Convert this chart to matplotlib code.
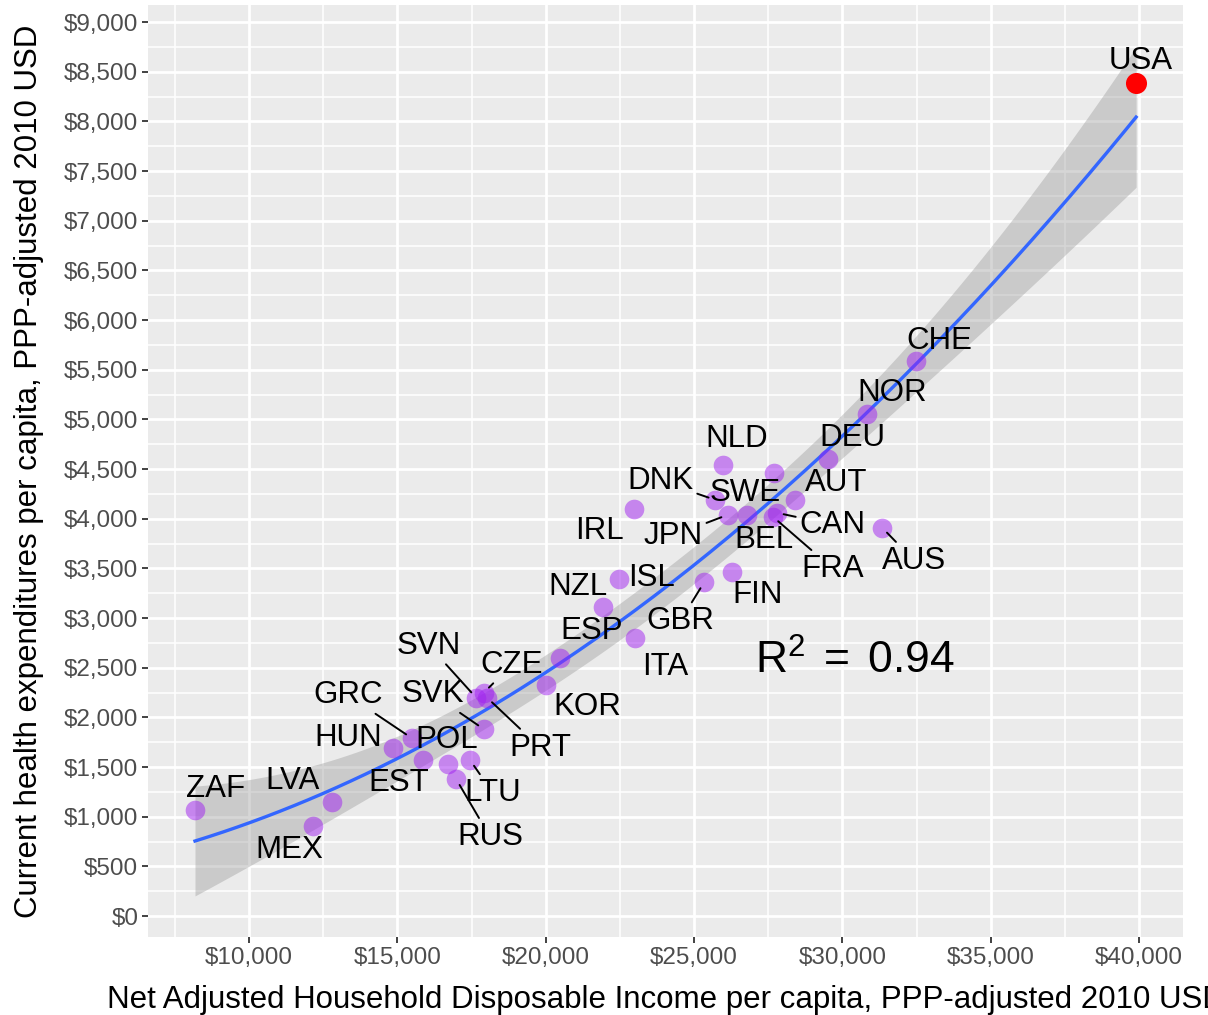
import numpy as np
import matplotlib
matplotlib.use('Agg')
import matplotlib.pyplot as plt
from matplotlib.ticker import FuncFormatter, MultipleLocator

plt.rcParams['font.family'] = ['Liberation Sans', 'DejaVu Sans']
plt.rcParams['mathtext.fontset'] = 'custom'
plt.rcParams['mathtext.rm'] = 'Liberation Sans'
plt.rcParams['mathtext.it'] = 'Liberation Sans:italic'

# ---------------- data ----------------
countries = ['USA', 'CHE', 'NOR', 'DEU', 'AUT', 'NLD', 'SWE', 'DNK', 'IRL', 'JPN',
             'BEL', 'CAN', 'FRA', 'AUS', 'FIN', 'GBR', 'ISL', 'NZL', 'ESP', 'ITA',
             'KOR', 'CZE', 'SVN', 'PRT', 'SVK', 'GRC', 'HUN', 'POL', 'EST', 'LTU',
             'RUS', 'LVA', 'MEX', 'ZAF']
income = [39900, 32480, 30830, 29520, 28400, 25980, 27690, 25710, 22980, 26140,
          26790, 27790, 27660, 31340, 26280, 25340, 22470, 21930, 20480, 23010,
          20010, 17920, 17650, 18020, 17920, 15490, 14850, 16710, 15870, 17450,
          16980, 12800, 12160, 8180]
health = [8390, 5590, 5050, 4600, 4190, 4540, 4460, 4190, 4100, 4040,
          4040, 4060, 4020, 3910, 3460, 3360, 3390, 3110, 2600, 2800,
          2330, 2250, 2200, 2200, 1880, 1790, 1690, 1530, 1570, 1570,
          1380, 1150, 910, 1070]
highlight = 'USA'
r2_text = r'$\mathregular{R^2\;=\;0.94}$'
x_title = 'Net Adjusted Household Disposable Income per capita, PPP-adjusted 2010 USD'
y_title = 'Current health expenditures per capita, PPP-adjusted 2010 USD'

# label offsets (pixels, from point) and which labels get a segment
label_offsets = {
    'USA': (5, 22), 'CHE': (23, 20), 'NOR': (25, 21), 'DEU': (24, 21), 'AUT': (41, 17),
    'NLD': (14, 26), 'SWE': (-29, -20), 'DNK': (-55, 19), 'IRL': (-35, -22),
    'JPN': (-55, -21), 'BEL': (17, -25), 'CAN': (56, -12), 'FRA': (60, -52),
    'AUS': (32, -33), 'FIN': (26, -23), 'GBR': (-24, -39), 'ISL': (33, 1),
    'NZL': (-25, 20), 'ESP': (32, 27), 'ITA': (30, -29), 'KOR': (41, -22),
    'CZE': (28, 28), 'SVN': (-47, 52), 'PRT': (53, -50), 'SVK': (-51, 35),
    'GRC': (-64, 43), 'HUN': (-45, 10), 'POL': (-1, 24), 'EST': (-24, -23),
    'LTU': (23, -33), 'RUS': (34, -58), 'LVA': (-40, 21), 'MEX': (-24, -24),
    'ZAF': (21, 21)}
with_segment = {'DNK', 'JPN', 'CAN', 'FRA', 'AUS', 'GBR', 'CZE', 'SVN', 'PRT',
                'SVK', 'GRC', 'LTU', 'RUS'}

x = np.array(income, dtype=float)
y = np.array(health, dtype=float)

# quadratic least-squares fit with 95% confidence band
xs = x / 1000.0
X = np.column_stack([np.ones_like(xs), xs, xs ** 2])
beta, *_ = np.linalg.lstsq(X, y, rcond=None)
resid = y - X @ beta
n, p = X.shape
s2 = resid @ resid / (n - p)
cov = s2 * np.linalg.inv(X.T @ X)
xg = np.linspace(x.min(), x.max(), 200)
Xg = np.column_stack([np.ones_like(xg), xg / 1000, (xg / 1000) ** 2])
yg = Xg @ beta
se = np.sqrt(np.einsum('ij,jk,ik->i', Xg, cov, Xg))
tval = 2.04
lo, hi = yg - tval * se, yg + tval * se

# ---------------- figure ----------------
fig = plt.figure(figsize=(12.08, 10.15), dpi=100)
ax = fig.add_axes([148 / 1208, 1 - 937 / 1015, (1183 - 148) / 1208, (937 - 5) / 1015])
ax.set_facecolor('#EBEBEB')
for s in ax.spines.values():
    s.set_visible(False)

ax.set_xlim(6596, 41480)
ax.set_ylim(-211, 9172)
ax.xaxis.set_major_locator(MultipleLocator(5000))
ax.xaxis.set_minor_locator(MultipleLocator(2500))
ax.yaxis.set_major_locator(MultipleLocator(500))
ax.yaxis.set_minor_locator(MultipleLocator(250))
fmt = FuncFormatter(lambda v, pos: '${:,.0f}'.format(v))
ax.xaxis.set_major_formatter(fmt)
ax.yaxis.set_major_formatter(fmt)
ax.grid(which='major', color='white', lw=2.0)
ax.grid(which='minor', color='white', lw=1.1)
ax.set_axisbelow(True)
ax.tick_params(which='major', length=4, width=1.3, color='#333333',
               labelcolor='#4D4D4D', labelsize=17.5, pad=3)
ax.tick_params(which='minor', length=0)

ax.fill_between(xg, lo, hi, color='#999999', alpha=0.4, lw=0, zorder=2)
ax.plot(xg, yg, color='#3366FF', lw=2.4, zorder=3)

mask = np.array([c != highlight for c in countries])
ax.scatter(x[mask], y[mask], s=200, color='#A020F0', alpha=0.5, lw=0, zorder=4)
ax.scatter(x[~mask], y[~mask], s=230, color='red', lw=0, zorder=5)

for c, xi, yi in zip(countries, x, y):
    dx, dy = label_offsets[c]
    kw = {}
    if c in with_segment:
        kw['arrowprops'] = dict(arrowstyle='-', color='black', lw=1.4,
                                shrinkA=1, shrinkB=5)
    ax.annotate(c, xy=(xi, yi), xytext=(dx, dy), textcoords='offset pixels',
                ha='center', va='center', fontsize=22.5, color='black',
                zorder=6, **kw)

ax.text(0.683, 0.296, r2_text, transform=ax.transAxes, fontsize=32,
        ha='center', va='center')

ax.set_xlabel(x_title, fontsize=22.5, labelpad=12)
ax.set_ylabel(y_title, fontsize=22.5, labelpad=14)

fig.savefig('out.png', dpi=100)
